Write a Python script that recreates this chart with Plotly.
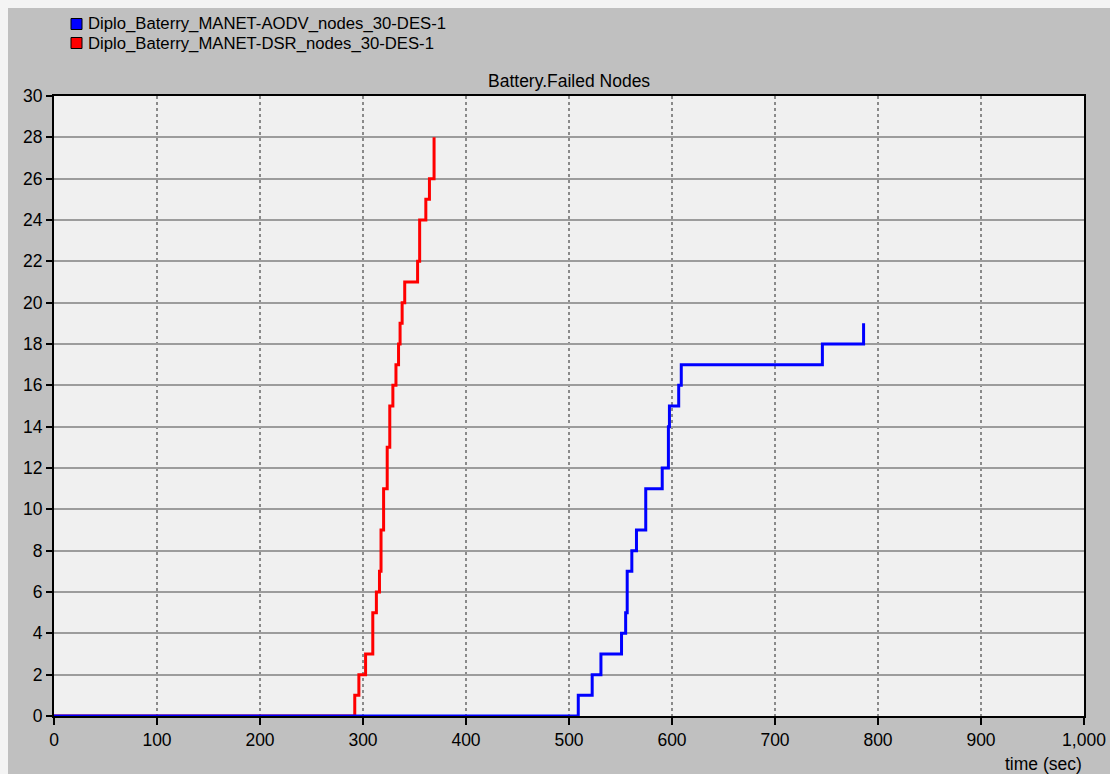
import plotly.graph_objects as go

# Battery failure events: cumulative number of failed nodes vs. simulation time
series_names = [
    "Diplo_Baterry_MANET-AODV_nodes_30-DES-1",
    "Diplo_Baterry_MANET-DSR_nodes_30-DES-1",
]
series_colors = ["#0000ff", "#ff0000"]

aodv_time = [0, 509, 522.5, 531, 551, 555, 556.5, 561, 565.5, 574.5, 590.5,
             596.5, 597.5, 606.5, 609, 746, 786]
aodv_failed = [0, 1, 2, 3, 4, 5, 7, 8, 9, 11, 12, 14, 15, 16, 17, 18, 19]

dsr_time = [0, 292, 296, 302.5, 309.5, 313, 316, 317.5, 320, 323.5, 326, 329,
            332, 334.5, 336, 338, 340.5, 353, 355, 361, 364.5, 369]
dsr_failed = [0, 1, 2, 3, 5, 6, 7, 9, 11, 13, 15, 16, 17, 18, 19, 20, 21, 22,
              24, 25, 26, 28]

x_ticks = list(range(0, 1001, 100))
y_ticks = list(range(0, 31, 2))

chart_title = "Battery.Failed Nodes"
x_title = "time (sec)"

W, H = 1110, 774
ML, MR, MT, MB = 54, 26, 96, 58
PW, PH = W - ML - MR, H - MT - MB
FONT = "Liberation Sans, Arial, sans-serif"


def px_x(p):
    return (p - ML) / PW


def px_y(p):
    return (H - MB - p) / PH


fig = go.Figure()

# DSR first so the AODV line sits on top along the zero baseline
fig.add_trace(go.Scatter(
    x=dsr_time, y=dsr_failed, mode="lines", line_shape="hv",
    line=dict(color=series_colors[1], width=3), name=series_names[1],
    showlegend=False,
))
fig.add_trace(go.Scatter(
    x=aodv_time, y=aodv_failed, mode="lines", line_shape="hv",
    line=dict(color=series_colors[0], width=3), name=series_names[0],
    showlegend=False,
))

shapes = [
    # thin light strips along the top and left edges of the canvas
    dict(type="rect", xref="paper", yref="paper", x0=px_x(0), x1=px_x(W),
         y0=px_y(8), y1=px_y(0), fillcolor="#f4f4f4", line_width=0, layer="below"),
    dict(type="rect", xref="paper", yref="paper", x0=px_x(0), x1=px_x(8),
         y0=px_y(H), y1=px_y(0), fillcolor="#f4f4f4", line_width=0, layer="below"),
]
annotations = []

# legend: coloured swatch + series name
legend_rows = [24, 43]
for name, color, cy in zip(series_names, series_colors, legend_rows):
    shapes.append(dict(
        type="rect", xref="paper", yref="paper",
        x0=px_x(71), x1=px_x(82), y0=px_y(cy + 5.5), y1=px_y(cy - 5.5),
        fillcolor=color, line=dict(color="#000000", width=1),
    ))
    annotations.append(dict(
        text=name, xref="paper", yref="paper", x=px_x(86), y=px_y(cy),
        xanchor="left", yanchor="middle", showarrow=False,
        font=dict(family=FONT, size=16.7, color="#000000"),
    ))

annotations.append(dict(
    text=chart_title, xref="paper", yref="paper", x=0.5, y=px_y(81.5),
    xanchor="center", yanchor="middle", showarrow=False,
    font=dict(family=FONT, size=17.5, color="#000000"),
))
annotations.append(dict(
    text=x_title, xref="paper", yref="paper", x=px_x(1084), y=px_y(764),
    xanchor="right", yanchor="middle", showarrow=False,
    font=dict(family=FONT, size=17.5, color="#000000"),
))

fig.update_layout(
    width=W, height=H,
    margin=dict(l=ML, r=MR, t=MT, b=MB, pad=0),
    paper_bgcolor="#c0c0c0",
    plot_bgcolor="#f0f0f0",
    font=dict(family=FONT, size=17.5, color="#000000"),
    shapes=shapes,
    annotations=annotations,
    showlegend=False,
)

fig.update_xaxes(
    range=[0, 1000], tickvals=x_ticks, tickformat=",d", automargin=False,
    showgrid=True, gridcolor="#8a8a8a", gridwidth=1.5, griddash="3px,3px",
    zeroline=False, showline=True, linecolor="#000000", linewidth=2,
    mirror=True, ticks="outside", ticklen=7, tickwidth=1.5, tickcolor="#000000",
    tickfont=dict(family=FONT, size=17.5, color="#000000"),
    layer="below traces",
)
fig.update_yaxes(
    range=[0, 30], tickvals=y_ticks, automargin=False,
    showgrid=True, gridcolor="#9c9c9c", gridwidth=1.5,
    zeroline=False, showline=True, linecolor="#000000", linewidth=2,
    mirror=True, ticks="outside", ticklen=6, tickwidth=1.5, tickcolor="#000000",
    tickfont=dict(family=FONT, size=17.5, color="#000000"),
    layer="below traces",
)

fig.write_html("out.html")
